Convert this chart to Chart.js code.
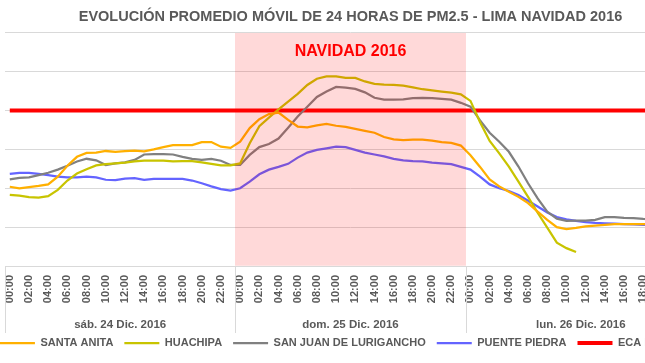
<!DOCTYPE html>
<html>
<head>
<meta charset="utf-8">
<script src="https://cdn.jsdelivr.net/npm/chart.js@4.4.0/dist/chart.umd.min.js"></script>
<style>
  body{margin:0;overflow:hidden;background:#fff}
  #wrap{position:absolute;left:-46px;top:0;width:768px;height:363px}
</style>
</head>
<body>
<div id="wrap"><canvas id="grafico"></canvas></div>
<script>
const titulo = "EVOLUCIÓN PROMEDIO MÓVIL DE 24 HORAS DE PM2.5 - LIMA NAVIDAD 2016"
const etiquetaNavidad = "NAVIDAD 2016"
const dias = ["sáb. 24 Dic. 2016", "dom. 25 Dic. 2016", "lun. 26 Dic. 2016"]
const horasDia = ["00:00","01:00","02:00","03:00","04:00","05:00","06:00","07:00","08:00","09:00","10:00","11:00",
                  "12:00","13:00","14:00","15:00","16:00","17:00","18:00","19:00","20:00","21:00","22:00","23:00"]
const horas = [...horasDia, ...horasDia, ...horasDia]

// promedio movil 24h, un valor por hora (24, 25 y 26 dic)
const santaAnita = [
  20.4,20.0,20.3,20.6,21.0,23.0,25.8,28.1,29.1,29.2,29.6,29.4,29.6,29.7,29.5,30.0,30.6,31.1,31.1,31.1,31.9,31.9,30.7,30.4,
  32.0,35.5,37.8,39.1,39.5,37.6,35.9,35.7,36.2,36.6,36.1,35.8,35.3,34.8,34.3,33.2,32.6,32.4,32.5,32.5,32.3,31.9,31.7,31.0,
  28.5,25.5,22.3,20.5,19.1,17.8,16.2,14.0,11.9,10.0,9.5,9.8,10.2,10.4,10.6,10.8,10.8,10.8,10.8,10.7,10.7,10.7,10.7,10.7]
const huachipa = [
  18.3,18.1,17.7,17.6,18.0,19.6,22.0,23.8,24.9,25.9,26.2,26.4,26.6,26.9,27.1,27.1,27.1,26.9,27.0,27.0,26.7,26.3,25.9,25.9,
  26.4,31.6,36.0,38.2,40.3,42.3,44.3,46.6,48.2,48.8,48.8,48.4,48.4,47.5,46.9,46.7,46.6,46.4,46.0,45.5,45.2,44.9,44.6,44.2,
  42.5,37.0,32.2,29.0,25.6,21.7,17.8,13.7,9.9,6.0,4.6,3.6]
const sanJuan = [
  22.3,22.7,22.8,23.4,24.0,24.8,25.8,26.9,27.6,27.2,26.0,26.4,26.7,27.3,28.7,28.8,28.8,28.7,28.1,27.6,27.3,27.6,27.1,26.0,
  26.0,28.6,30.6,31.4,32.8,35.6,38.5,41.0,43.5,44.9,46.1,45.9,45.6,44.7,43.3,42.8,42.8,42.9,43.2,43.3,43.2,43.0,42.8,42.0,
  41.0,37.5,34.3,32.0,29.4,25.6,21.3,17.4,14.0,12.2,11.6,11.7,11.7,11.9,12.6,12.6,12.4,12.3,12.1,12.0,12.0,12.0,12.0,12.0]
const puentePiedra = [
  23.7,24.0,24.0,23.7,23.4,23.0,22.8,22.8,23.0,22.8,22.2,22.1,22.5,22.6,22.2,22.4,22.4,22.4,22.4,22.0,21.3,20.5,19.8,19.4,
  20.0,21.7,23.6,24.8,25.5,26.3,27.9,29.2,29.9,30.3,30.7,30.6,29.9,29.2,28.7,28.2,27.6,27.2,27.0,26.9,26.6,26.4,26.2,25.5,
  24.8,23.0,21.0,20.0,19.3,18.3,16.8,15.3,13.8,12.6,12.0,11.6,11.3,11.1,11.0,10.9,10.8,10.7,10.6,10.6,10.6,10.6,10.6,10.6]
const eca = [
  40,40,40,40,40,40,40,40,40,40,40,40,40,40,40,40,40,40,40,40,40,40,40,40,
  40,40,40,40,40,40,40,40,40,40,40,40,40,40,40,40,40,40,40,40,40,40,40,40,
  40,40,40,40,40,40,40,40,40,40,40,40,40,40,40,40,40,40,40,40,40,40,40,40]
// franja navidad (solo el 25)
const franja = [null, 60, null]

const gris = "#595959"
const fuente = "'Liberation Sans', Arial, sans-serif"

const linea = (label, data, color, ancho) => ({
  type: "line", label: label, data: data,
  borderColor: color, backgroundColor: color,
  borderWidth: ancho, pointRadius: 0, tension: 0, order: 1
})

//separadores, nombres de los dias y texto de navidad
const extras = {
  id: "extras",
  afterDraw(chart){
    const ctx = chart.ctx
    const xd = chart.scales.xDia
    const area = chart.chartArea
    ctx.save()
    ctx.strokeStyle = "#d9d9d9"
    ctx.lineWidth = 1
    for(let i = 0; i <= dias.length; i++){
      const px = Math.round(xd.getPixelForValue(i - 0.5)) + 0.5
      ctx.beginPath()
      ctx.moveTo(px, area.bottom)
      ctx.lineTo(px, area.bottom + 67)
      ctx.stroke()
    }
    ctx.fillStyle = gris
    ctx.font = "bold 11.5px " + fuente
    ctx.textAlign = "center"
    ctx.textBaseline = "middle"
    dias.forEach((d, i) => ctx.fillText(d, xd.getPixelForValue(i), area.bottom + 59))

    ctx.fillStyle = "#ff0000"
    ctx.font = "bold 16px " + fuente
    ctx.fillText(etiquetaNavidad, xd.getPixelForValue(1), area.top + 19)
    ctx.restore()
  }
}

new Chart(document.getElementById("grafico"), {
  type: "line",
  data: {
    labels: horas,
    datasets: [
      linea("SANTA ANITA", santaAnita, "#ffb000", 2.25),
      linea("HUACHIPA", huachipa, "#c8c400", 2.25),
      linea("SAN JUAN DE LURIGANCHO", sanJuan, "#808080", 2.25),
      linea("PUENTE PIEDRA", puentePiedra, "#6464ff", 2.25),
      linea("ECA PM2.5", eca, "#ff0000", 4),
      {
        type: "bar", label: "navidad", data: franja, xAxisID: "xDia",
        backgroundColor: "rgba(255,0,0,0.15)", borderWidth: 0, grouped: false,
        barPercentage: 1, categoryPercentage: 1, order: 0
      }
    ]
  },
  options: {
    responsive: true,
    maintainAspectRatio: false,
    animation: false,
    layout: { padding: { left: 0, right: 0, top: 0, bottom: 4.5 } },
    plugins: {
      tooltip: { enabled: false },
      title: {
        display: true, text: titulo, color: gris, fullSize: false,
        font: { family: fuente, size: 14.5, weight: "bold" },
        padding: { top: 8, bottom: 7.5 }
      },
      legend: {
        position: "bottom",
        labels: {
          usePointStyle: true, pointStyle: "line", pointStyleWidth: 35,
          color: gris, padding: 11,
          font: { family: fuente, size: 11, weight: "bold" },
          filter: item => item.text !== "navidad"
        }
      }
    },
    scales: {
      x: {
        offset: true,
        grid: { display: false, drawTicks: false },
        border: { display: true, color: "#d9d9d9" },
        ticks: {
          autoSkip: false, maxRotation: 90, minRotation: 90, padding: 9,
          color: gris, font: { family: fuente, size: 11, weight: "bold" },
          callback: (v, i) => i % 2 === 0 ? horas[i] : ""
        },
        afterFit: s => { s.height = 38 }
      },
      xDia: {
        type: "category", labels: dias, position: "bottom", offset: true, weight: 1,
        grid: { display: false, drawTicks: false },
        border: { display: false },
        ticks: { display: false },
        afterFit: s => { s.height = 22.5 }
      },
      y: {
        min: 0, max: 60,
        ticks: { display: false, stepSize: 10 },
        grid: { color: "#d9d9d9", drawTicks: false },
        border: { display: false },
        afterFit: s => { s.width = 51 }
      },
      y2: {
        position: "right",
        ticks: { display: false },
        grid: { display: false, drawTicks: false },
        border: { display: false },
        afterFit: s => { s.width = 26 }
      }
    }
  },
  plugins: [extras]
})
</script>
</body>
</html>
